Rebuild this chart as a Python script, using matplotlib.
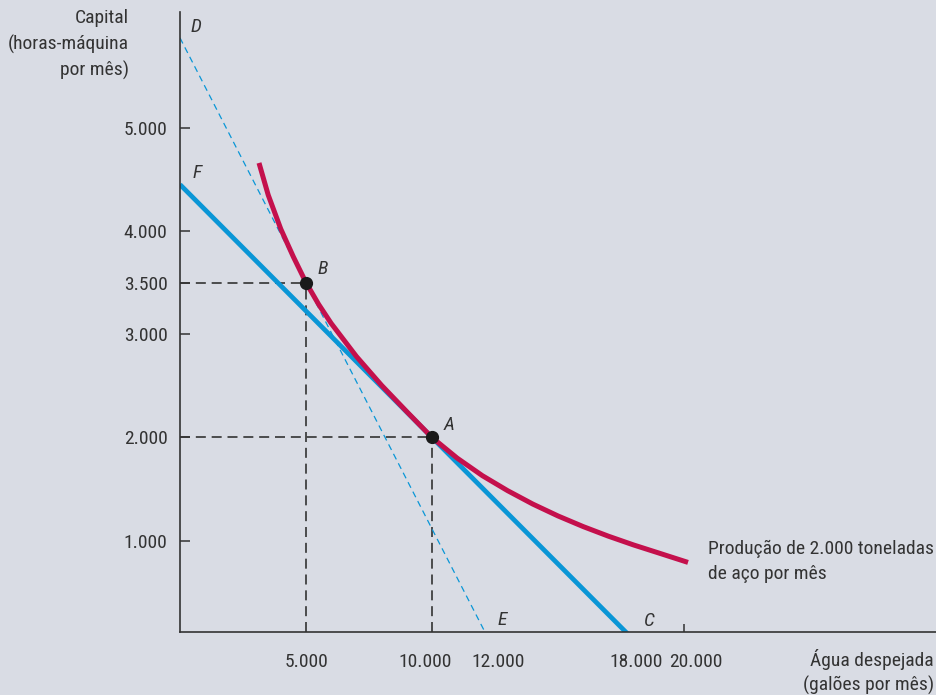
import matplotlib
matplotlib.use("Agg")
import matplotlib.pyplot as plt
from matplotlib.transforms import ScaledTranslation

plt.rcParams['font.family'] = ['Roboto Condensed', 'Liberation Sans Narrow', 'Open Sans Condensed',
                               'Liberation Sans', 'DejaVu Sans']

bg = '#d9dce4'
color_curve = '#c4104c'
color_line = '#0a96d6'
color_axis = '#333333'

# isoquant: 2.000 t of steel per month (water W, capital K)
iso_w = [3135, 3500, 4000, 4500, 5000, 5500, 6000, 7000, 8000, 9000, 10000,
         11000, 12000, 13000, 14000, 15000, 16000, 17000, 18000, 19000, 20159]
iso_k = [4659, 4349, 4019, 3749, 3500, 3290, 3105, 2785, 2505, 2250, 2000,
         1800, 1630, 1485, 1355, 1240, 1137, 1044, 959, 881, 790]

# budget lines (end points)
fc_w = [0, 18000]
fc_k = [4450, 40]
de_w = [0, 12100]
de_k = [5870, 116]

# chosen points
pts_w = [5000, 10000]
pts_k = [3500, 2000]

xticks = [5000, 10000, 12000, 18000, 20000]
xtick_labels = ['5.000', '10.000', '12.000', '18.000', '20.000']
yticks = [1000, 2000, 3000, 3500, 4000, 5000]
ytick_labels = ['1.000', '2.000', '3.000', '3.500', '4.000', '5.000']

fig = plt.figure(figsize=(9.36, 6.95), dpi=100, facecolor=bg)
ax = fig.add_axes([180 / 936, 63 / 695, 756 / 936, 620 / 695], facecolor=bg)
ax.set_xlim(0, 30000)
ax.set_ylim(116, 6121)

# dashed guides to the axes
for w, k in zip(pts_w, pts_k):
    ax.plot([0, w], [k, k], color=color_axis, lw=1.2, dashes=(6, 3.5))
    ax.plot([w, w], [116, k], color=color_axis, lw=1.2, dashes=(6, 3.5))

ax.plot(de_w, de_k, color=color_line, lw=0.9, dashes=(5, 3.5))
ax.plot(fc_w, fc_k, color=color_line, lw=3.4, solid_capstyle='butt')
ax.plot(iso_w, iso_k, color=color_curve, lw=3.6, solid_capstyle='butt', solid_joinstyle='round')
ax.plot(pts_w, pts_k, 'o', color='#1a1a1a', ms=8.5, zorder=5)

# letters
lab = dict(fontsize=14, style='italic', color=color_axis)
ax.text(420, 5980, 'D', ha='left', va='center', **lab)
ax.text(480, 4560, 'F', ha='left', va='center', **lab)
ax.text(5450, 3630, 'B', ha='left', va='center', **lab)
ax.text(10450, 2120, 'A', ha='left', va='center', **lab)
ax.text(12600, 230, 'E', ha='left', va='center', **lab)
ax.text(18400, 220, 'C', ha='left', va='center', **lab)

ax.text(20950, 800, 'Produção de 2.000 toneladas\nde aço por mês', ha='left', va='center',
        fontsize=14, color=color_axis, linespacing=1.45)

for s in ['top', 'right']:
    ax.spines[s].set_visible(False)
for s in ['left', 'bottom']:
    ax.spines[s].set_color(color_axis)
    ax.spines[s].set_linewidth(1.2)

ax.set_xticks(xticks)
ax.set_xticklabels(xtick_labels)
ax.set_yticks(yticks)
ax.set_yticklabels(ytick_labels)
ax.tick_params(axis='both', direction='in', colors=color_axis, labelsize=14, width=1.1)
ax.tick_params(axis='y', length=7, pad=9)
ax.tick_params(axis='x', length=6, pad=15)
for t in ax.xaxis.get_major_ticks()[:-1]:
    t.tick1line.set_visible(False)

# spread the crowded labels apart a little, as in the original
for lbl, dx in zip(ax.get_xticklabels()[1:], [-7, 16, 3, 12]):
    lbl.set_transform(lbl.get_transform() + ScaledTranslation(dx / 100, 0, fig.dpi_scale_trans))

fig.text(129 / 936, 1 - 9 / 695, 'Capital\n(horas-máquina\npor mês)', ha='right', va='top',
         fontsize=14, color=color_axis, linespacing=1.5)
fig.text(934 / 936, 1 - 649 / 695, 'Água despejada\n(galões por mês)', ha='right', va='top',
         fontsize=14, color=color_axis, linespacing=1.4)

fig.savefig('out.png', dpi=100, facecolor=bg)
